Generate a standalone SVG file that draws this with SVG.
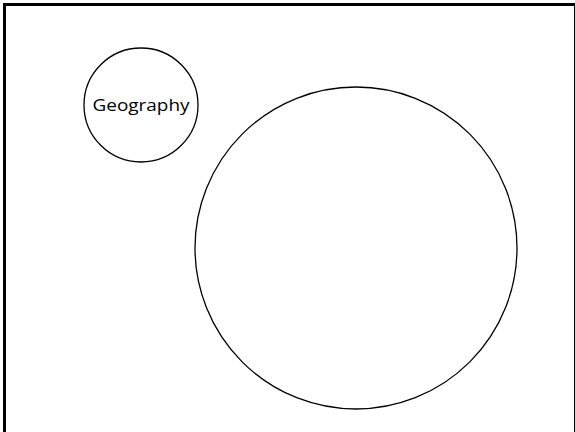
<svg xmlns="http://www.w3.org/2000/svg" width="575" height="432" viewBox="0 0 575 432">
<style>
.n{fill:#fff;stroke:#000;stroke-width:1.3}
.t{font-family:"Open Sans","Liberation Sans",sans-serif;font-size:17px;fill:#000;text-anchor:middle}
</style>
<rect width="575" height="432" fill="#fff"/>
<rect x="4.5" y="4.5" width="571" height="440" fill="none" stroke="#000" stroke-width="3"/>
<g id="connectors"/>
<g id="geography">
<circle class="n" cx="141" cy="105" r="57"/>
<text class="t" x="141" y="111" textLength="97" lengthAdjust="spacingAndGlyphs">Geography</text>
</g>
<g id="big-circle">
<circle class="n" cx="356" cy="248" r="161"/>
</g>
</svg>
